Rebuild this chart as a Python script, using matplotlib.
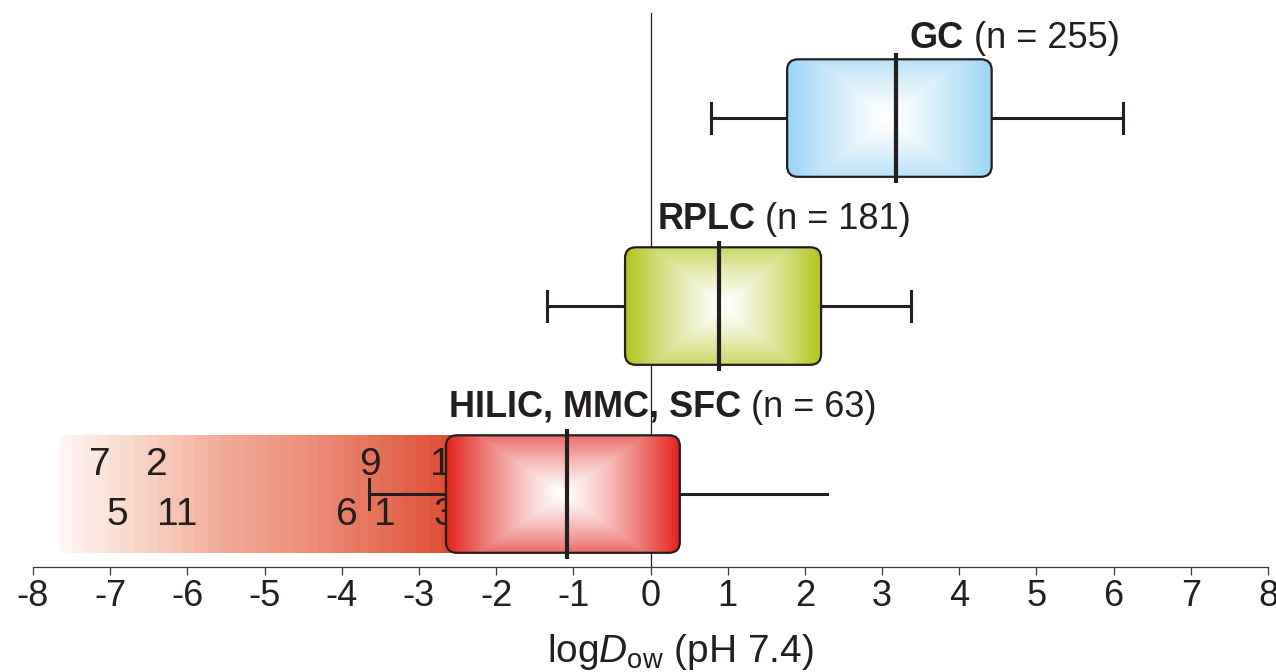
import numpy as np
import matplotlib
matplotlib.use('Agg')
import matplotlib.pyplot as plt
from matplotlib.patches import FancyBboxPatch
from matplotlib.colors import to_rgb, LinearSegmentedColormap

plt.rcParams['font.family'] = ['Liberation Sans', 'DejaVu Sans']
plt.rcParams['mathtext.fontset'] = 'custom'
plt.rcParams['mathtext.rm'] = 'Liberation Sans'
plt.rcParams['mathtext.it'] = 'Liberation Sans:italic'
plt.rcParams['axes.unicode_minus'] = False

# data
groups = ['GC', 'RPLC', 'HILIC, MMC, SFC']
n_values = [255, 181, 63]
q1 = [1.77, -0.33, -2.65]
medians = [3.18, 0.89, -1.08]
q3 = [4.42, 2.21, 0.38]
whisker_lo = [0.78, -1.34, -3.65]
whisker_hi = [6.12, 3.37, 2.29]
band_start = -7.65  # low end of the shaded HILIC range

outlier_ids = ['7', '2', '5', '11', '9', '6', '1', '1', '3']
outlier_x = [-7.13, -6.39, -6.91, -6.13, -3.63, -3.93, -3.44, -2.72, -2.67]
outlier_row = ['up', 'up', 'low', 'low', 'up', 'low', 'low', 'up', 'low']

xticks = list(range(-8, 9))

# style
ink = '#231f20'
box_colors = ['#99d3f4', '#b1c51c', '#e3211c']
band_colors = ['#fef4f1', '#f8d3c6', '#f1ab98', '#ed917c', '#e5715a', '#de4830']
ypos = [2, 1, 0]
box_h = 0.625
label_dy = [0.372, 0.41, 0.41]
label_x0 = [3.36, 0.09, -2.61]
row_base = {'up': 0.10, 'low': -0.165}


def box_gradient(color, nx=400, ny=160, k=0.72, p=1.25):
    u = np.linspace(-1, 1, nx)
    v = np.linspace(-1, 1, ny)
    U, V = np.meshgrid(u, v)
    t = np.maximum(np.abs(U), k * np.abs(V))
    f = t ** p
    rgb = np.array(to_rgb(color))
    return 1 - f[..., None] * (1 - rgb)


fig = plt.figure(figsize=(12.76, 6.72), dpi=100)
ax = fig.add_axes([33 / 1276, 105 / 672, 1235 / 1276, 567 / 672])
ax.set_xlim(-8, 8)
ax.set_ylim(-0.388, 2.628)

# zero line
ax.plot([0, 0], [-0.388, 2.56], color=ink, lw=0.9, zorder=1)

# HILIC shaded range (stepped gradient)
cmap = LinearSegmentedColormap.from_list('band', band_colors)
steps = np.linspace(0, 1, 33)[None, :]
ax.imshow(cmap(steps), extent=[band_start, q1[2] + 0.25, -box_h / 2, box_h / 2],
          aspect='auto', interpolation='nearest', zorder=2)

for lab, x, row in zip(outlier_ids, outlier_x, outlier_row):
    ax.text(x, row_base[row], lab, fontsize=28, color=ink, ha='center',
            va='baseline', zorder=3)

for i in range(3):
    y = ypos[i]
    cap = 0.08
    # whiskers
    ax.plot([whisker_lo[i], q1[i]], [y, y], color=ink, lw=2.2, zorder=4)
    ax.plot([q3[i], whisker_hi[i]], [y, y], color=ink, lw=2.2, zorder=4)
    ax.plot([whisker_lo[i]] * 2, [y - cap, y + cap], color=ink, lw=2.2, zorder=4)
    if i < 2:
        ax.plot([whisker_hi[i]] * 2, [y - cap, y + cap], color=ink, lw=2.2, zorder=4)
    # box
    patch = FancyBboxPatch((q1[i], y - box_h / 2), q3[i] - q1[i], box_h,
                           boxstyle='round,pad=0,rounding_size=0.14',
                           mutation_aspect=0.41, facecolor='none',
                           edgecolor=ink, lw=1.6, zorder=6)
    ax.add_patch(patch)
    im = ax.imshow(box_gradient(box_colors[i]),
                   extent=[q1[i], q3[i], y - box_h / 2, y + box_h / 2],
                   aspect='auto', interpolation='bilinear', zorder=5)
    im.set_clip_path(patch)
    # median
    ax.plot([medians[i]] * 2, [y - box_h / 2 - 0.035, y + box_h / 2 + 0.035],
            color=ink, lw=3, zorder=7, solid_capstyle='butt')

# group labels: bold name followed by normal "(n = ...)"
fig.canvas.draw()
renderer = fig.canvas.get_renderer()
for i in range(3):
    yb = ypos[i] + label_dy[i]
    t = ax.text(label_x0[i], yb, groups[i], fontsize=26, fontweight='bold',
                color=ink, va='baseline', ha='left', zorder=8)
    bb = t.get_window_extent(renderer)
    x1 = ax.transData.inverted().transform((bb.x1, bb.y0))[0]
    ax.text(x1, yb, ' (n = %d)' % n_values[i], fontsize=26, color=ink,
            va='baseline', ha='left', zorder=8)

# axes styling
for s in ['left', 'right', 'top']:
    ax.spines[s].set_visible(False)
ax.spines['bottom'].set_color('#3a3a3a')
ax.spines['bottom'].set_linewidth(0.9)
ax.set_yticks([])
ax.set_xticks(xticks)
ax.set_xticklabels([str(v) for v in xticks])
ax.tick_params(axis='x', direction='out', length=6, width=0.9, color='#3a3a3a',
               labelsize=26, labelcolor=ink, pad=3)

fig.text(680 / 1276, 1 - 662 / 672, r'log$D_{\mathrm{ow}}$ (pH 7.4)', fontsize=28,
         color=ink, ha='center', va='baseline')

fig.savefig('out.png', dpi=100)
